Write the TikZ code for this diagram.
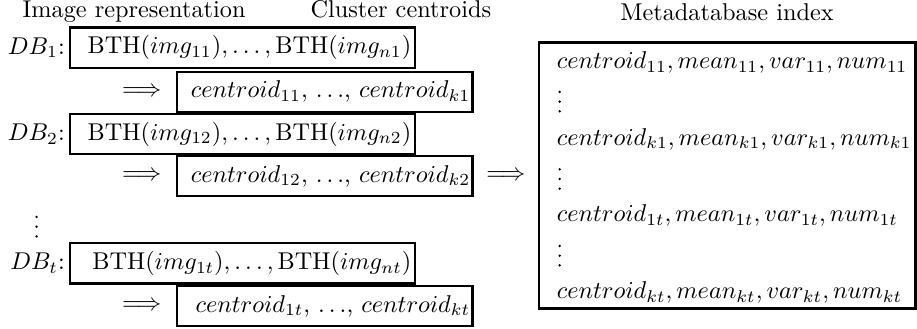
\documentclass[tikz,border=0pt]{standalone}
\usepackage{tikz}
\usepackage{amssymb}
\usepackage{mathtools}
\usetikzlibrary{positioning, fit, calc}

\begin{document}
\begin{tikzpicture}[
				  dbbox/.style={draw, line width=1pt, minimum width=4.99cm, minimum height=0.58cm, text width=4.885cm, align=flush right, inner xsep=1.5pt, inner ysep=0pt},
				  cbox/.style={draw, line width=1pt, minimum width=4.28cm, minimum height=0.58cm, text width=4.21cm, align=flush right, inner xsep=1pt, inner ysep=0pt},
				  plain/.style={inner sep=0pt},
				  head/.style={anchor=base, inner sep=0pt},
				  row/.style={anchor=base west, inner sep=0pt},
				  ]
				  \useasboundingbox (0,0) rectangle (13.27,-4.76);
				  \node[head] (imgrep) at (1.94,-0.25) {Image representation};
				  \node[head] (clust) at (5.80,-0.25) {Cluster centroids};
				  \node[head] (meta) at (10.52,-0.29) {Metadatabase index};
				  \node[dbbox] (db1) at (3.51,-0.69) {$\mathrm{BTH}(img_{11}), \ldots, \mathrm{BTH}(img_{n1})$};
				  \node[dbbox] (db2) at (3.51,-1.94) {$\mathrm{BTH}(img_{12}), \ldots, \mathrm{BTH}(img_{n2})$};
				  \node[dbbox] (dbt) at (3.51,-3.81) {$\mathrm{BTH}(img_{1t}), \ldots, \mathrm{BTH}(img_{nt})$};
				  \node[plain, left=1.5pt of db1] (db1lab) {$DB_1$:};
				  \node[plain, left=1.5pt of db2] (db2lab) {$DB_2$:};
				  \node[plain, left=1.5pt of dbt] (dbtlab) {$DB_t$:};
				  \node[cbox] (c1) at (4.70,-1.33) {$centroid_{11}$, $\ldots$, $centroid_{k1}$};
				  \node[cbox] (c2) at (4.70,-2.55) {$centroid_{12}$, $\ldots$, $centroid_{k2}$};
				  \node[cbox] (ct) at (4.70,-4.43) {$centroid_{1t}$, $\ldots$, $centroid_{kt}$};
				  \node[plain, left=0.2cm of c1] (arr1) {$\Longrightarrow$};
				  \node[plain, left=0.2cm of c2] (arr2) {$\Longrightarrow$};
				  \node[plain, left=0.2cm of ct] (arrt) {$\Longrightarrow$};
				  \node[draw, line width=1pt, minimum width=5.45cm, minimum height=3.85cm, inner sep=0pt] (index) at (10.525,-2.539) {};
				  \node[plain] (toindex) at ($(c2.east)!0.5!(index.west)$) {$\Longrightarrow$};
				  \node[row] (r11) at (8.05,-0.99) {$centroid_{11}, mean_{11}, var_{11}, num_{11}$};
				  \node[row] (rk1) at (8.05,-2.10) {$centroid_{k1}, mean_{k1}, var_{k1}, num_{k1}$};
				  \node[row] (r1t) at (8.05,-3.21) {$centroid_{1t}, mean_{1t}, var_{1t}, num_{1t}$};
				  \node[row] (rkt) at (8.05,-4.32) {$centroid_{kt}, mean_{kt}, var_{kt}, num_{kt}$};
				  \foreach \x/\y in {0.48/-3.44, 8.05/-1.63, 8.05/-2.75, 8.05/-3.86}
				    \foreach \k in {0,4,8}
				      \fill ([xshift=1.39pt, yshift=\k pt+0.55pt]\x,\y) circle (0.55pt);
				\end{tikzpicture}
\end{document}
